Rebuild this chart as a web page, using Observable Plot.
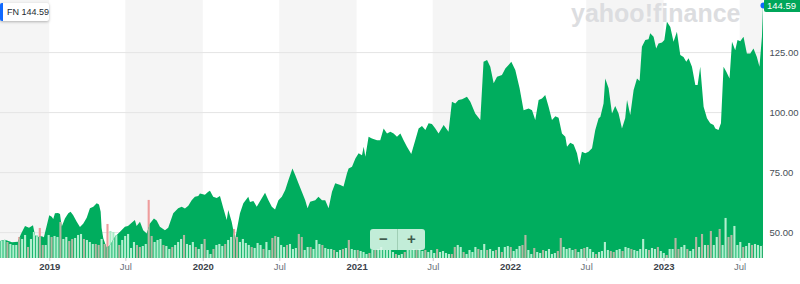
<!DOCTYPE html>
<html>
<head>
<meta charset="utf-8">
<script src="https://cdn.jsdelivr.net/npm/d3@7"></script>
<script src="https://cdn.jsdelivr.net/npm/@observablehq/plot@0.6"></script>
<style>
  html, body { margin: 0; padding: 0; background: #fff; }
  #chart { position: relative; width: 800px; height: 284px; overflow: hidden;
           font-family: "Liberation Sans", Arial, Helvetica, sans-serif; }
  #chart svg { display: block; }
  .badge { position: absolute; left: 0; top: 3px; height: 18px; width: 49px; background: #fff;
           border-left: 3px solid #0f69ff; border-radius: 2px; box-shadow: 0 1px 3px rgba(0,0,0,0.28);
           font-size: 9px; line-height: 18px; color: #232a31; padding-left: 4px; box-sizing: border-box; white-space: nowrap; }
  .last { position: absolute; left: 764px; width: 36px; height: 13px; background: #00a65a; color: #fff;
          font-size: 9.5px; line-height: 13px; padding-left: 3px; box-sizing: border-box; border-radius: 2px 0 0 2px; }
  .zoom { position: absolute; left: 370px; top: 229px; width: 55px; height: 21px; background: rgba(226,247,236,0.86);
          border-radius: 3px; display: flex; color: #3f5a4c; font-weight: bold; font-size: 15px; line-height: 20px; }
  .zoom span { flex: 1; text-align: center; }
  .zoom span + span { border-left: 1px solid rgba(120,170,140,0.45); }
</style>
</head>
<body>
<div id="chart"></div>
<script>
// ---- data ----
const ticker = "FN";
const lastPrice = 144.59;
const yTicks = [50, 75, 100, 125];
const yearTicks = ["2019-01-01", "2020-01-01", "2021-01-01", "2022-01-01", "2023-01-01"];
const julyTicks = ["2019-07-01", "2020-07-01", "2021-07-01", "2022-07-01", "2023-07-01"];
const shadedHalves = ["2018-07-01", "2019-07-01", "2020-07-01", "2021-07-01", "2022-07-01", "2023-07-01"];

// price: decimal year and close
const priceYear = [
 2018.679,2018.711,2018.757,2018.796,2018.814,2018.842,2018.868,2018.894,2018.907,2018.926,2018.952,2018.965,
 2019.000,2019.016,2019.026,2019.037,2019.057,2019.070,2019.081,2019.102,2019.124,2019.139,2019.156,2019.179,
 2019.200,2019.221,2019.244,2019.265,2019.287,2019.309,2019.324,2019.335,2019.341,2019.352,2019.374,2019.395,
 2019.428,2019.461,2019.493,2019.513,2019.537,2019.558,2019.569,2019.591,2019.612,2019.635,2019.656,2019.682,
 2019.700,2019.721,2019.754,2019.775,2019.808,2019.840,2019.863,2019.884,2019.906,2019.928,2019.949,2019.971,
 2019.982,2020.014,2020.036,2020.047,2020.068,2020.091,2020.112,2020.134,2020.156,2020.166,2020.188,2020.199,
 2020.210,2020.221,2020.242,2020.264,2020.296,2020.307,2020.329,2020.351,2020.373,2020.405,2020.427,2020.449,
 2020.470,2020.492,2020.514,2020.536,2020.557,2020.583,2020.601,2020.622,2020.644,2020.666,2020.681,2020.698,
 2020.731,2020.752,2020.775,2020.796,2020.818,2020.840,2020.861,2020.894,2020.915,2020.937,2020.948,2020.970,
 2020.992,2021.013,2021.035,2021.046,2021.057,2021.078,2021.100,2021.133,2021.154,2021.176,2021.198,2021.220,
 2021.241,2021.263,2021.285,2021.306,2021.328,2021.356,2021.382,2021.404,2021.426,2021.448,2021.469,2021.491,
 2021.513,2021.534,2021.567,2021.599,2021.621,2021.643,2021.664,2021.687,2021.719,2021.741,2021.773,2021.806,
 2021.827,2021.850,2021.871,2021.893,2021.915,2021.947,2021.969,2021.990,2022.008,2022.034,2022.062,2022.088,
 2022.121,2022.143,2022.164,2022.186,2022.208,2022.229,2022.251,2022.273,2022.295,2022.316,2022.338,2022.360,
 2022.371,2022.392,2022.414,2022.436,2022.451,2022.468,2022.490,2022.511,2022.534,2022.555,2022.577,2022.588,
 2022.609,2022.620,2022.642,2022.664,2022.685,2022.707,2022.729,2022.750,2022.762,2022.783,2022.805,2022.827,
 2022.844,2022.859,2022.881,2022.902,2022.913,2022.935,2022.952,2022.967,2022.990,2023.005,2023.022,2023.044,
 2023.065,2023.087,2023.109,2023.130,2023.148,2023.163,2023.185,2023.207,2023.222,2023.239,2023.250,2023.261,
 2023.283,2023.304,2023.326,2023.337,2023.358,2023.374,2023.391,2023.409,2023.430,2023.446,2023.467,2023.482,
 2023.500,2023.521,2023.543,2023.565,2023.586,2023.608,2023.625,2023.641,2023.648
];
const priceClose = [
 46.3,46.8,45.8,46.0,49.0,52.5,51.8,52.8,48.7,48.0,48.3,47.8,
 57.0,56.4,55.5,57.8,58.0,57.5,52.2,55.7,57.8,58.5,57.0,54.3,
 52.1,53.5,56.0,59.9,60.6,62.0,61.5,58.5,51.7,47.4,43.5,44.5,
 48.1,50.1,52.2,52.5,53.9,55.0,52.5,54.3,50.8,49.4,53.6,55.7,
 54.8,52.2,50.8,51.8,57.8,59.9,60.6,59.8,61.0,63.3,64.7,65.0,
 66.1,65.6,66.8,67.2,64.7,64.2,65.0,59.9,55.0,59.2,54.3,50.8,
 46.7,50.8,57.8,62.0,64.7,62.5,63.0,60.6,63.0,66.4,63.3,60.6,
 59.4,63.3,64.7,67.5,71.7,76.5,73.75,70.3,66.8,63.3,59.9,62.6,
 63.3,64.7,63.3,63.3,59.9,66.8,70.3,69.6,69.0,74.4,76.5,77.2,
 80.7,82.8,82.0,85.6,81.4,89.7,89.0,88.3,88.3,93.2,91.1,91.8,
 91.1,89.7,91.1,88.3,85.6,82.5,88.3,93.2,94.2,92.5,95.3,95.0,
 93.2,91.1,94.6,91.8,104.3,103.6,105.0,105.3,106.4,104.3,99.4,96.7,
 121.0,121.7,118.9,112.0,114.7,115.4,118.2,119.6,121.0,117.5,109.9,100.8,
 101.5,100.8,96.7,105.0,105.7,107.1,102.2,96.7,98.3,97.6,91.1,89.7,
 85.6,87.2,86.5,82.8,77.9,83.5,82.8,83.5,84.9,92.5,97.4,98.0,
 103.6,114.0,109.9,99.4,102.5,99.4,93.2,97.4,105.0,98.75,109.2,114.0,
 113.0,127.2,130.0,130.3,132.8,131.4,126.5,128.6,129.0,130.0,137.6,135.5,
 129.3,133.5,123.75,123.0,121.0,122.4,118.9,111.25,111.25,118.9,110.6,102.2,
 97.4,95.3,94.6,93.2,92.5,95.3,118.9,116.8,114.0,129.3,125.8,130.0,
 129.5,131.4,124.4,124.4,126.5,123.0,118.9,131.4,144.59
];

// weekly volume (millions of shares), first week starting 2018-09-07
const volumeStart = "2018-09-07";
const volumeM = [
 1.7,1.8,1.6,1.4,1.3,1.3,2.1,1.9,2.3,1.1, 1.9,2.6,2.3,3.0,1.3,1.3,2.3,2.1,2.2,2.1,
 3.6,1.9,2.1,1.7,1.9,2.0,2.3,2.4,1.9,1.8, 1.6,1.4,1.4,1.3,1.9,1.4,3.4,2.7,2.6,2.3,
 1.3,1.8,2.2,2.4,
 1.0,1.6,1.3,1.1,1.2,1.4,5.8,2.2,1.6,1.8, 1.9,1.3,1.2,0.9,1.1,1.3,1.6,1.9,2.3,1.4,
 1.3,1.6,1.1,0.9,1.4,1.9,0.8,0.4,0.9,1.3, 1.4,1.2,1.4,1.8,2.1,2.9,2.1,1.6,1.9,1.5,
 1.3,1.1,1.0,
 1.5,1.3,0.9,1.6,0.8,2.0,2.2,2.1,1.3,1.1, 1.3,1.4,0.9,1.0,2.4,2.1,0.8,1.1,1.1,0.9,
 1.8,1.4,1.3,1.0,0.9,0.9,0.8,0.6,0.8,0.9, 1.0,1.8,0.9,0.8,0.8,0.7,0.6,0.4,0.5,0.8,
 0.8,0.9,1.1,0.8,
 0.8,0.8,0.6,0.4,0.3,0.4,0.6,0.8,0.8,0.9, 0.8,0.9,0.7,0.8,0.6,0.8,0.5,0.9,0.6,0.7,
 0.5,0.4,0.4,1.1,1.3,1.1,0.6,0.4,0.8,0.6, 1.1,0.9,0.8,1.4,0.8,0.9,0.7,0.8,1.1,0.6,
 1.1,1.2,1.1,
 0.7,0.9,1.2,1.3,2.3,0.8,0.4,1.0,0.6,0.5, 0.8,0.7,0.9,0.4,0.5,0.7,2.0,1.1,0.9,1.0,
 0.8,0.9,0.6,0.9,1.0,1.1,0.9,0.6,0.4,0.6, 0.7,1.6,0.8,0.7,0.6,0.8,0.9,0.7,1.1,1.0,
 0.9,0.8,0.7,0.9,
 1.9,0.9,0.8,1.0,0.9,1.1,0.7,0.5,0.3,0.9, 0.9,2.0,0.9,1.1,1.3,0.9,0.7,0.9,2.1,1.1,
 2.4,1.3,1.3,2.7,1.3,2.1,2.9,1.3,4.0,2.1, 2.3,3.2,1.3,1.6,1.1,1.2,1.5,1.3,1.4,1.3,
 1.2,1.3
];
// u = week closed up, d = week closed down
const volumeDir =
 "uuduuuduud" + "uuudduuduu" + "duudduuudu" + "uuddudduuu" + "duuu" +
 "uudduudduu" + "uduuduuudu" + "uuduuduudu" + "uuduudduuu" + "udu" +
 "uuduudduuu" + "duuudduudu" + "uuduuuduud" + "uduuduuudu" + "duuu" +
 "uuuduuduuu" + "duuduuuduu" + "uudduuduuu" + "uduuduudud" + "uud" +
 "uuudduuduu" + "duuuudduuu" + "uduuduuudu" + "uuudduuduu" + "duuu" +
 "uuduuduudu" + "udduuduudu" + "dudduuduud" + "duuuduuduu" + "ud";

// ---- scale / layout configuration ----
const yMin = 39.2, yMax = 146.7;       // visible price range
const volumeTopPrice = 63.4;           // price level reached by the largest volume bar
const toDate = t => { const y = Math.floor(t); const a = Date.UTC(y, 0, 1), b = Date.UTC(y + 1, 0, 1); return new Date(a + (t - y) * (b - a)); };
const parse = s => new Date(s + "T00:00:00Z");

const prices = priceYear.map((t, i) => ({date: toDate(t), close: priceClose[i]}));
const vStart = parse(volumeStart);
const volMax = d3.max(volumeM);
const bars = volumeM.map((v, i) => ({date: d3.utcDay.offset(vStart, 7 * i), end: d3.utcDay.offset(vStart, 7 * i + 5), vol: v, up: volumeDir[i] !== "d"}));
const halves = shadedHalves.map(s => ({x1: parse(s), x2: d3.utcMonth.offset(parse(s), 6)}));
const xDomain = [prices[0].date, prices[prices.length - 1].date];
const volTop = d => yMin + d.vol / volMax * (volumeTopPrice - yMin);
const last = prices[prices.length - 1];

const chart = Plot.plot({
  width: 800, height: 284,
  marginTop: 0, marginBottom: 26, marginLeft: 0, marginRight: 37,
  style: {fontFamily: '"Liberation Sans", Arial, sans-serif', fontSize: "9.5px", background: "#ffffff"},
  x: {type: "utc", domain: xDomain},
  y: {domain: [yMin, yMax]},
  color: {type: "identity"},
  marks: [
    Plot.rect(halves, {x1: "x1", x2: "x2", y1: yMin, y2: yMax, fill: "#f5f5f5", clip: true}),
    Plot.ruleY(yTicks, {stroke: "#e4e4e4", strokeWidth: 1}),
    Plot.text(["yahoo!finance"], {text: d => d, frameAnchor: "top-right", dx: -23, dy: 4, fontSize: 25, fontWeight: "bold", fill: "#dcdde0", letterSpacing: "-0.5px"}),
    // volume as seen over the white/grey background
    Plot.rect(bars, {x1: "date", x2: "end", y1: yMin, y2: volTop,
      fill: d => d.up ? "#a9ecc7" : "#ee9c9c", clip: true}),
    Plot.area(prices, {x1: "date", y1: yMin, y2: "close", fill: "#00ad5e"}),
    // volume as seen over the green price area (clipped to the area below)
    Plot.rect(bars, {x1: "date", x2: "end", y1: yMin, y2: volTop,
      fill: d => d.up ? "#b1efcf" : "#b4b7a3", clip: true}),
    Plot.dot([last], {x: "date", y: "close", r: 3, fill: "#0f69ff", stroke: null}),
    Plot.axisY(yTicks, {anchor: "right", tickSize: 0, tickPadding: 6, tickFormat: d => d.toFixed(2), fill: "#464e56", fontSize: 9.5}),
    Plot.axisX(yearTicks.map(parse), {tickSize: 3, tickPadding: 2, tickFormat: d3.utcFormat("%Y"), fontWeight: "bold", fill: "#3b4249", stroke: "#c8c8c8", fontSize: 9.5}),
    Plot.axisX(julyTicks.map(parse), {tickSize: 3, tickPadding: 2, tickFormat: () => "Jul", fill: "#6b737b", stroke: "#c8c8c8", fontSize: 9.5})
  ]
});

const root = document.getElementById("chart");
root.appendChild(chart);

// clip the second volume layer to the price area shape
(function () {
  const ns = "http://www.w3.org/2000/svg";
  const areaG = chart.querySelector('g[aria-label="area"]');
  const rectGroups = chart.querySelectorAll('g[aria-label="rect"]');
  const barsG = rectGroups[rectGroups.length - 1];
  if (!areaG || !barsG || rectGroups.length < 3) return;
  const areaPath = areaG.querySelector("path");
  if (!areaPath) return;
  let defs = chart.querySelector("defs");
  if (!defs) { defs = document.createElementNS(ns, "defs"); chart.insertBefore(defs, chart.firstChild); }
  const cp = document.createElementNS(ns, "clipPath");
  cp.setAttribute("id", "fn-area-clip");
  const p = document.createElementNS(ns, "path");
  p.setAttribute("d", areaPath.getAttribute("d"));
  if (areaG.getAttribute("transform")) p.setAttribute("transform", areaG.getAttribute("transform"));
  cp.appendChild(p);
  defs.appendChild(cp);
  const wrap = document.createElementNS(ns, "g");
  wrap.setAttribute("clip-path", "url(#fn-area-clip)");
  barsG.parentNode.insertBefore(wrap, barsG);
  wrap.appendChild(barsG);
})();

// overlays: ticker badge, last price label, zoom buttons
const badge = document.createElement("div");
badge.className = "badge";
badge.textContent = ticker + " " + lastPrice.toFixed(2);
root.appendChild(badge);

const lastLabel = document.createElement("div");
lastLabel.className = "last";
lastLabel.textContent = lastPrice.toFixed(2);
lastLabel.style.top = (chart.scale("y").apply(lastPrice) - 6.5) + "px";
root.appendChild(lastLabel);

const zoom = document.createElement("div");
zoom.className = "zoom";
zoom.innerHTML = "<span>\u2212</span><span>+</span>";
root.appendChild(zoom);
</script>
</body>
</html>
